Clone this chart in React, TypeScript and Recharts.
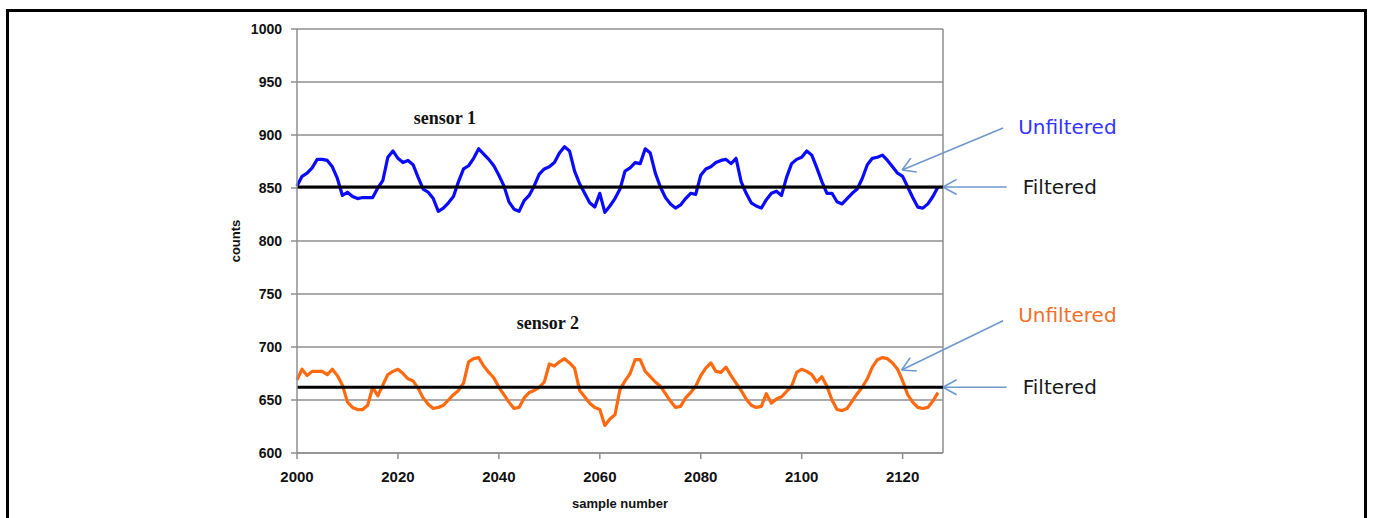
import { LineChart, Line, XAxis, YAxis, CartesianGrid, ReferenceLine, ReferenceDot } from "recharts"

const SAMPLE_START = 2000

const SENSOR_1 = [
    852, 861, 864, 869, 877, 877, 876, 870, 859, 843,
    846, 842, 840, 841, 841, 841, 850, 857, 879, 885,
    878, 874, 876, 872, 860, 849, 846, 840, 828, 831,
    836, 842, 856, 868, 871, 878, 887, 882, 877, 871,
    862, 852, 837, 830, 828, 838, 843, 852, 863, 868,
    870, 874, 883, 889, 885, 866, 854, 845, 836, 832,
    845, 827, 833, 840, 849, 866, 869, 874, 873, 887,
    883, 864, 851, 841, 835, 831, 834, 840, 845, 844,
    862, 868, 870, 874, 876, 877, 873, 878, 856, 845,
    836, 833, 831, 839, 845, 847, 843, 860, 873, 877,
    879, 885, 881, 869, 856, 845, 845, 837, 835, 840,
    845, 849, 859, 872, 878, 879, 881, 876, 870, 864,
    861, 851, 841, 832, 831, 835, 842, 851,
]

const SENSOR_2 = [
    669, 679, 673, 677, 677, 677, 674, 679, 673, 664,
    648, 643, 641, 641, 645, 662, 654, 664, 674, 677,
    679, 675, 670, 668, 661, 652, 646, 642, 643, 645,
    650, 655, 659, 666, 686, 689, 690, 682, 676, 671,
    662, 655, 648, 642, 643, 652, 657, 659, 662, 667,
    684, 682, 686, 689, 685, 680, 659, 653, 647, 643,
    641, 626, 632, 636, 660, 668, 675, 688, 688, 677,
    672, 667, 663, 656, 649, 643, 644, 652, 657, 663,
    673, 680, 685, 677, 676, 681, 673, 666, 659, 651,
    645, 643, 644, 656, 647, 651, 653, 658, 663, 676,
    679, 677, 674, 667, 672, 663, 650, 641, 640, 642,
    649, 656, 662, 670, 681, 688, 690, 689, 685, 679,
    668, 655, 648, 643, 642, 643, 649, 657,
]

const FILTERED_1 = 851
const FILTERED_2 = 662

const X_TICKS = [2000, 2020, 2040, 2060, 2080, 2100, 2120]
const Y_TICKS = [600, 650, 700, 750, 800, 850, 900, 950, 1000]

// annotation anchors, in data units
const SENSOR_LABELS = [
    { text: "sensor 1", x: 2029.3, y: 916 },
    { text: "sensor 2", x: 2049.7, y: 723 },
]

const ARROWS = [
    { from: [2139.9, 906.6], tip: [2119.9, 867], wings: [[2121.6, 878.2], [2122.8, 865.1]] },
    { from: [2140.6, FILTERED_1], tip: [2128, FILTERED_1], wings: [[2130.7, FILTERED_1 + 7.1], [2130.7, FILTERED_1 - 7.1]] },
    { from: [2139.9, 724.8], tip: [2119.8, 678.3], wings: [[2121.5, 690], [2122.8, 677.3]] },
    { from: [2140.6, FILTERED_2], tip: [2128, FILTERED_2], wings: [[2130.7, FILTERED_2 + 7.1], [2130.7, FILTERED_2 - 7.1]] },
]

const ARROW_TEXTS = [
    { text: "Unfiltered", x: 2142.9, y: 907.5, color: "#3434ff" },
    { text: "Filtered", x: 2143.8, y: FILTERED_1, color: "#1a1a1a" },
    { text: "Unfiltered", x: 2142.9, y: 730.2, color: "#f0702a" },
    { text: "Filtered", x: 2143.8, y: FILTERED_2, color: "#1a1a1a" },
]

const data = SENSOR_1.map((v, i) => ({
    sample: SAMPLE_START + i,
    s1: v,
    s2: SENSOR_2[i],
}))

const GRID = "#8f8f8f"
const ARROW = "#6f98cc"
const tickStyle = { fill: "#111", fontSize: 14, fontWeight: 700, fontFamily: "'Liberation Sans', Arial, sans-serif" }

const App = () => {
    return (
        <div style={{ position: "fixed", left: 0, top: 0, width: 1373, height: 518, overflow: "hidden", background: "#fff" }}>
            <div style={{ position: "absolute", left: 6, top: 9, width: 1355, height: 600, border: "3px solid #000" }} />
            <div style={{ position: "absolute", left: 0, top: 0 }}>
                <LineChart width={1373} height={518} data={data} margin={{ top: 29, right: 430, bottom: 0, left: 0 }}>
                    <CartesianGrid vertical={false} stroke={GRID} strokeWidth={1.5} />
                    <XAxis
                        dataKey="sample"
                        type="number"
                        domain={[2000, 2128]}
                        ticks={X_TICKS}
                        height={65}
                        stroke={GRID}
                        strokeWidth={1.5}
                        tickSize={6}
                        tickMargin={12}
                        tick={{ ...tickStyle, fontSize: 15 }}
                        label={{
                            value: "sample number",
                            position: "insideBottom",
                            offset: 10,
                            fill: "#111",
                            fontSize: 13,
                            fontWeight: 700,
                            fontFamily: "'Liberation Sans', Arial, sans-serif",
                        }}
                    />
                    <YAxis
                        type="number"
                        domain={[600, 1000]}
                        ticks={Y_TICKS}
                        width={297}
                        stroke={GRID}
                        strokeWidth={1.5}
                        tickSize={6}
                        tickMargin={9}
                        tick={tickStyle}
                        label={(props: any) => {
                            const vb = props.viewBox
                            const cx = vb.x + vb.width - 62
                            const cy = vb.y + vb.height / 2
                            return (
                                <text
                                    x={cx}
                                    y={cy}
                                    transform={`rotate(-90, ${cx}, ${cy})`}
                                    textAnchor="middle"
                                    dominantBaseline="central"
                                    fill="#111"
                                    fontSize={13}
                                    fontWeight={700}
                                    fontFamily="'Liberation Sans', Arial, sans-serif"
                                >
                                    counts
                                </text>
                            )
                        }}
                    />
                    <ReferenceLine x={2128} stroke={GRID} strokeWidth={1.5} />

                    <Line dataKey="s1" stroke="#0a0aff" strokeWidth={3.2} strokeLinejoin="round" dot={false} isAnimationActive={false} />
                    <Line dataKey="s2" stroke="#ff6a10" strokeWidth={3.2} strokeLinejoin="round" dot={false} isAnimationActive={false} />

                    <ReferenceLine y={FILTERED_1} stroke="#000" strokeWidth={3} />
                    <ReferenceLine y={FILTERED_2} stroke="#000" strokeWidth={3} />

                    {SENSOR_LABELS.map((l) => (
                        <ReferenceDot
                            key={l.text}
                            x={l.x}
                            y={l.y}
                            r={0}
                            stroke="none"
                            fill="none"
                            label={{
                                value: l.text,
                                position: "center",
                                fill: "#111",
                                fontSize: 18,
                                fontWeight: 700,
                                fontFamily: "'Liberation Serif', 'Times New Roman', serif",
                            }}
                        />
                    ))}

                    {ARROWS.map((a, i) => (
                        <ReferenceLine
                            key={"a" + i}
                            segment={[{ x: a.from[0], y: a.from[1] }, { x: a.tip[0], y: a.tip[1] }]}
                            stroke={ARROW}
                            strokeWidth={1.6}
                            ifOverflow="visible"
                        />
                    ))}
                    {ARROWS.flatMap((a, i) =>
                        a.wings.map((w, j) => (
                            <ReferenceLine
                                key={"w" + i + "-" + j}
                                segment={[{ x: a.tip[0], y: a.tip[1] }, { x: w[0], y: w[1] }]}
                                stroke={ARROW}
                                strokeWidth={1.6}
                                ifOverflow="visible"
                            />
                        ))
                    )}

                    {ARROW_TEXTS.map((t, i) => (
                        <ReferenceDot
                            key={"t" + i}
                            x={t.x}
                            y={t.y}
                            r={0}
                            stroke="none"
                            fill="none"
                            ifOverflow="visible"
                            label={{
                                value: t.text,
                                position: "right",
                                offset: 0,
                                fill: t.color,
                                fontSize: 20,
                                fontFamily: "'DejaVu Sans', Verdana, sans-serif",
                            }}
                        />
                    ))}
                </LineChart>
            </div>
        </div>
    )
}

export default App
